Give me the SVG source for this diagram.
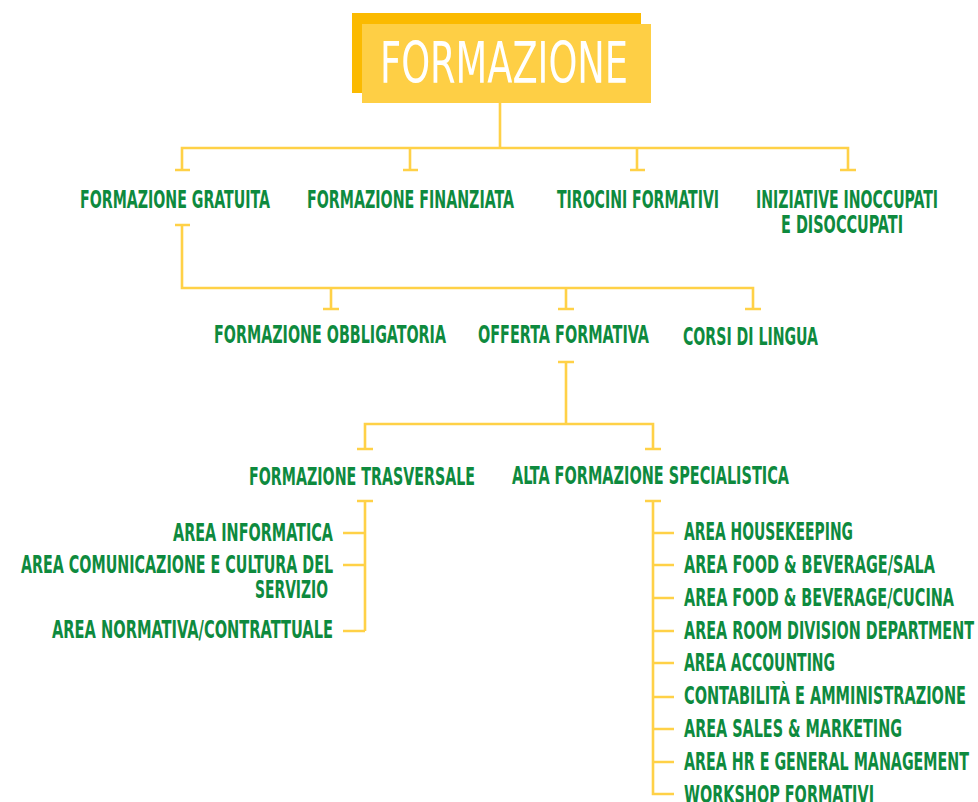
<svg xmlns="http://www.w3.org/2000/svg" width="978" height="802" viewBox="0 0 978 802">
<style>
.lbl{font-family:"DejaVu Sans Condensed","DejaVu Sans","Liberation Sans",sans-serif;font-stretch:condensed;font-size:24.5px;font-weight:bold;fill:#0E8A3E;}
.ttl{font-family:"DejaVu Sans Condensed","DejaVu Sans","Liberation Sans",sans-serif;font-stretch:condensed;font-size:57px;fill:#ffffff;}
.cn{fill:none;stroke:#FFD147;stroke-width:2.6;stroke-linecap:butt;stroke-linejoin:miter;}
</style>
<rect width="978" height="802" fill="#ffffff"/>
<g id="connectors" class="cn">
  <path d="M500 103V148M182 170V148H848V170M410 148V170M637 148V170"/>
  <path d="M175 170H190M403 170H418M630 170H645M840 170H856"/>
  <path d="M175 225H190M182 225V288H753V309M331 288V309M566 288V309"/>
  <path d="M323 309H339M558 309H574M745 309H761"/>
  <path d="M558 362H574M566 362V424M365 449V424H653V449"/>
  <path d="M357 449H373M645 449H661"/>
  <path d="M357 501H373M365 501V631M343 533H365M343 565H365M343 631H365"/>
  <path d="M645 501H661M653 501V794H674M653 533H674M653 565H674M653 598H674M653 631H674M653 663H674M653 697H674M653 729H674M653 762H674"/>
</g>
<g id="node-formazione">
  <rect x="352" y="13" width="289" height="80" fill="#FBBA00"/>
  <rect x="362" y="24" width="289" height="79" fill="#FECF45"/>
  <text class="ttl" x="380" y="83" textLength="248" lengthAdjust="spacingAndGlyphs">FORMAZIONE</text>
</g>
<g id="node-gratuita"><text class="lbl" x="80" y="208" textLength="190" lengthAdjust="spacingAndGlyphs">FORMAZIONE GRATUITA</text></g>
<g id="node-finanziata"><text class="lbl" x="307" y="208" textLength="207" lengthAdjust="spacingAndGlyphs">FORMAZIONE FINANZIATA</text></g>
<g id="node-tirocini"><text class="lbl" x="557" y="208" textLength="162" lengthAdjust="spacingAndGlyphs">TIROCINI FORMATIVI</text></g>
<g id="node-iniziative">
  <text class="lbl" x="756" y="208" textLength="182" lengthAdjust="spacingAndGlyphs">INIZIATIVE INOCCUPATI</text>
  <text class="lbl" x="781" y="233" textLength="122" lengthAdjust="spacingAndGlyphs">E DISOCCUPATI</text>
</g>
<g id="node-obbligatoria"><text class="lbl" x="214" y="343" textLength="232" lengthAdjust="spacingAndGlyphs">FORMAZIONE OBBLIGATORIA</text></g>
<g id="node-offerta"><text class="lbl" x="478" y="343" textLength="171" lengthAdjust="spacingAndGlyphs">OFFERTA FORMATIVA</text></g>
<g id="node-lingua"><text class="lbl" x="683" y="345" textLength="135" lengthAdjust="spacingAndGlyphs">CORSI DI LINGUA</text></g>
<g id="node-trasversale"><text class="lbl" x="249" y="485" textLength="226" lengthAdjust="spacingAndGlyphs">FORMAZIONE TRASVERSALE</text></g>
<g id="node-specialistica"><text class="lbl" x="512" y="484" textLength="277" lengthAdjust="spacingAndGlyphs">ALTA FORMAZIONE SPECIALISTICA</text></g>
<g id="node-informatica"><text class="lbl" x="173" y="541" textLength="160" lengthAdjust="spacingAndGlyphs">AREA INFORMATICA</text></g>
<g id="node-comunicazione">
  <text class="lbl" x="21" y="573" textLength="312" lengthAdjust="spacingAndGlyphs">AREA COMUNICAZIONE E CULTURA DEL</text>
  <text class="lbl" x="255" y="598" textLength="73" lengthAdjust="spacingAndGlyphs">SERVIZIO</text>
</g>
<g id="node-normativa"><text class="lbl" x="52" y="638" textLength="281" lengthAdjust="spacingAndGlyphs">AREA NORMATIVA/CONTRATTUALE</text></g>
<g id="node-housekeeping"><text class="lbl" x="684" y="540" textLength="169" lengthAdjust="spacingAndGlyphs">AREA HOUSEKEEPING</text></g>
<g id="node-sala"><text class="lbl" x="684" y="573" textLength="251" lengthAdjust="spacingAndGlyphs">AREA FOOD &amp; BEVERAGE/SALA</text></g>
<g id="node-cucina"><text class="lbl" x="684" y="606" textLength="270" lengthAdjust="spacingAndGlyphs">AREA FOOD &amp; BEVERAGE/CUCINA</text></g>
<g id="node-room"><text class="lbl" x="684" y="639" textLength="290" lengthAdjust="spacingAndGlyphs">AREA ROOM DIVISION DEPARTMENT</text></g>
<g id="node-accounting"><text class="lbl" x="684" y="671" textLength="151" lengthAdjust="spacingAndGlyphs">AREA ACCOUNTING</text></g>
<g id="node-contabilita"><text class="lbl" x="684" y="704" textLength="282" lengthAdjust="spacingAndGlyphs">CONTABILITÀ E AMMINISTRAZIONE</text></g>
<g id="node-sales"><text class="lbl" x="684" y="737" textLength="218" lengthAdjust="spacingAndGlyphs">AREA SALES &amp; MARKETING</text></g>
<g id="node-hr"><text class="lbl" x="684" y="770" textLength="285" lengthAdjust="spacingAndGlyphs">AREA HR E GENERAL MANAGEMENT</text></g>
<g id="node-workshop"><text class="lbl" x="684" y="803" textLength="190" lengthAdjust="spacingAndGlyphs">WORKSHOP FORMATIVI</text></g>
</svg>
